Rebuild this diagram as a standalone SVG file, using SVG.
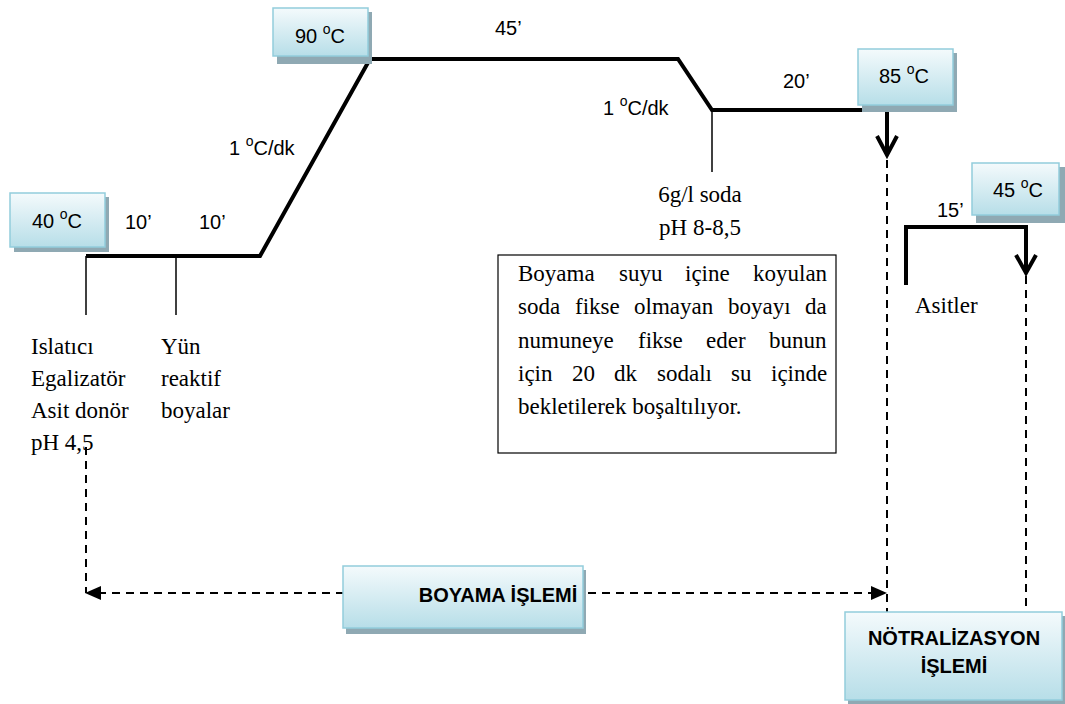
<svg xmlns="http://www.w3.org/2000/svg" width="1065" height="704" viewBox="0 0 1065 704">
  <defs>
    <linearGradient id="boxFill" x1="0" y1="0" x2="0" y2="1">
      <stop offset="0" stop-color="#F4FAFC"/>
      <stop offset="1" stop-color="#B7DEE8"/>
    </linearGradient>
  </defs>
  <style>
    .bx { fill: url(#boxFill); stroke: #92CDDC; stroke-width: 1.5; }
    .sh { fill: #8FA9B3; }
    .lbl { font-family: "Liberation Sans", Arial, sans-serif; font-size: 20px; fill: #000; }
    .sup { font-size: 14px; }
    .ttl { font-family: "Liberation Sans", Arial, sans-serif; font-size: 20px; font-weight: bold; fill: #000; }
    .tm { font-family: "Liberation Serif", "Times New Roman", serif; font-size: 23px; fill: #000; }
    .thick { fill: none; stroke: #000; stroke-width: 4; stroke-linejoin: miter; }
    .thin { fill: none; stroke: #000; stroke-width: 1.5; }
    .dash { fill: none; stroke: #000; stroke-width: 2; stroke-dasharray: 8 6; }
    .head { fill: #000; }
  </style>

  <!-- temperature profile and process brackets -->
  <g id="connectors">
    <polyline class="thick" points="86,256 260,256 370,59 678,59 712,110 887,110 887,155"/>
    <polyline class="thick" points="877,136 887,155 897,136"/>
    <polyline class="thick" points="906,285 906,227 1026,227 1026,273"/>
    <polyline class="thick" points="1016,255 1026,273 1036,255"/>
    <line class="thin" x1="86" y1="256" x2="86" y2="315"/>
    <line class="thin" x1="176" y1="256" x2="176" y2="315"/>
    <line class="thin" x1="712" y1="110" x2="712" y2="172"/>
    <line class="dash" x1="86" y1="447" x2="86" y2="593"/>
    <line class="dash" x1="98" y1="593" x2="874" y2="593"/>
    <path class="head" d="M85,593 L101,586 L101,600 Z"/>
    <path class="head" d="M887,593 L871,586 L871,600 Z"/>
    <line class="dash" x1="887" y1="160" x2="887" y2="612"/>
    <line class="dash" x1="1026" y1="276" x2="1026" y2="612"/>
  </g>

  <g id="t40">
    <rect class="sh" x="14" y="197" width="95" height="55"/>
    <rect class="bx" x="10" y="193" width="95" height="54"/>
    <text class="lbl" x="32" y="228">40 <tspan class="sup" dy="-9">o</tspan><tspan dy="9">C</tspan></text>
  </g>
  <g id="t90">
    <rect class="sh" x="277" y="12" width="95" height="52"/>
    <rect class="bx" x="273" y="8" width="95" height="48"/>
    <text class="lbl" x="295" y="43">90 <tspan class="sup" dy="-9">o</tspan><tspan dy="9">C</tspan></text>
  </g>
  <g id="t85">
    <rect class="sh" x="862" y="53" width="95" height="59"/>
    <rect class="bx" x="858" y="49" width="95" height="56"/>
    <text class="lbl" x="879" y="83">85 <tspan class="sup" dy="-9">o</tspan><tspan dy="9">C</tspan></text>
  </g>
  <g id="t45">
    <rect class="sh" x="976" y="167" width="89" height="56"/>
    <rect class="bx" x="972" y="163" width="87" height="52"/>
    <text class="lbl" x="993" y="197">45 <tspan class="sup" dy="-9">o</tspan><tspan dy="9">C</tspan></text>
  </g>

  <g id="durations">
    <text class="lbl" x="125" y="229">10’</text>
    <text class="lbl" x="199" y="229">10’</text>
    <text class="lbl" x="495" y="35">45’</text>
    <text class="lbl" x="783" y="88">20’</text>
    <text class="lbl" x="937" y="217">15’</text>
    <text class="lbl" x="229" y="155">1 <tspan class="sup" dy="-9">o</tspan><tspan dy="9">C/dk</tspan></text>
    <text class="lbl" x="603" y="115">1 <tspan class="sup" dy="-9">o</tspan><tspan dy="9">C/dk</tspan></text>
  </g>

  <g id="chemicals">
    <text class="tm" x="31" y="354">Islatıcı</text>
    <text class="tm" x="31" y="386">Egalizatör</text>
    <text class="tm" x="31" y="418">Asit donör</text>
    <text class="tm" x="31" y="450">pH 4,5</text>
    <text class="tm" x="161" y="354">Yün</text>
    <text class="tm" x="161" y="386">reaktif</text>
    <text class="tm" x="161" y="418">boyalar</text>
    <text class="tm" x="700" y="202" text-anchor="middle">6g/l soda</text>
    <text class="tm" x="700" y="235" text-anchor="middle">pH 8-8,5</text>
    <text class="tm" x="915" y="313">Asitler</text>
  </g>

  <!-- justified note: words placed individually across 518..827 -->
  <g id="note">
    <rect x="498" y="255" width="338" height="198" fill="#fff" stroke="#000" stroke-width="1.2"/>
    <text class="tm" y="281"><tspan x="518">Boyama</tspan><tspan x="619">suyu</tspan><tspan x="685">içine</tspan><tspan x="753">koyulan</tspan></text>
    <text class="tm" y="314"><tspan x="518">soda</tspan><tspan x="575">fikse</tspan><tspan x="634">olmayan</tspan><tspan x="728">boyayı</tspan><tspan x="805">da</tspan></text>
    <text class="tm" y="348"><tspan x="518">numuneye</tspan><tspan x="638">fikse</tspan><tspan x="706">eder</tspan><tspan x="769">bunun</tspan></text>
    <text class="tm" y="381"><tspan x="518">için</tspan><tspan x="572">20</tspan><tspan x="614">dk</tspan><tspan x="657">sodalı</tspan><tspan x="731">su</tspan><tspan x="771">içinde</tspan></text>
    <text class="tm" x="518" y="414">bekletilerek boşaltılıyor.</text>
  </g>

  <g id="boyama">
    <rect class="sh" x="346" y="570" width="240" height="64"/>
    <rect class="bx" x="343" y="566" width="240" height="62"/>
    <text class="ttl" x="498" y="602" text-anchor="middle">BOYAMA İŞLEMİ</text>
  </g>

  <g id="notralizasyon">
    <rect class="sh" x="848" y="616" width="218" height="88"/>
    <rect class="bx" x="845" y="612" width="217" height="88"/>
    <text class="ttl" x="954" y="645" text-anchor="middle" font-size="18.5">NÖTRALİZASYON</text>
    <text class="ttl" x="954" y="673" text-anchor="middle" font-size="18.5">İŞLEMİ</text>
  </g>
</svg>
